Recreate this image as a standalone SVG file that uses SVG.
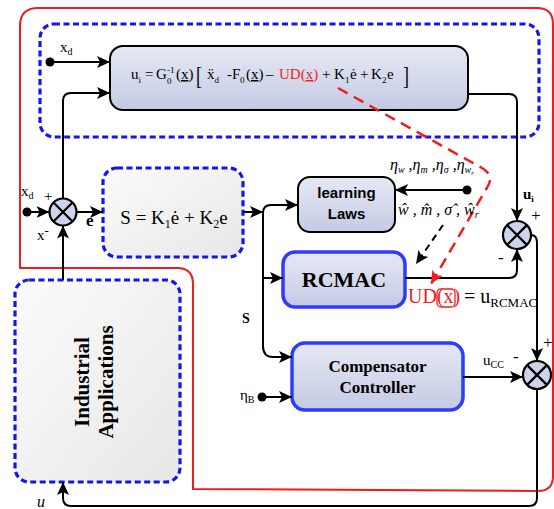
<svg xmlns="http://www.w3.org/2000/svg" width="554" height="509" viewBox="0 0 554 509">
<defs>
<linearGradient id="gN" x1="0" y1="0" x2="0" y2="1"><stop offset="0" stop-color="#e6e9f4"/><stop offset="1" stop-color="#c4cae4"/></linearGradient>
<linearGradient id="gG" x1="0" y1="0" x2="1" y2="1"><stop offset="0" stop-color="#fbfbfb"/><stop offset="1" stop-color="#e7e7e7"/></linearGradient>
<marker id="ah" markerUnits="userSpaceOnUse" markerWidth="14" markerHeight="12" refX="13" refY="6" orient="auto"><path d="M0,0 L13,6 L0,12 L3,6 z" fill="#000"/></marker>
<marker id="ahr" markerUnits="userSpaceOnUse" markerWidth="14" markerHeight="12" refX="13" refY="6" orient="auto"><path d="M0,0 L13,6 L0,12 L3,6 z" fill="#f01e1e"/></marker>
<style>
.ln{fill:none;stroke:#000;stroke-width:2}
.bd{fill:none;stroke:#1414f0;stroke-width:3.2;stroke-dasharray:6 3.5}
.bdg{fill:url(#gG);stroke:#1414f0;stroke-width:3.2;stroke-dasharray:6 3.5}
.node{fill:url(#gN);stroke:#000;stroke-width:2}
.nodeb{fill:url(#gN);stroke:#2d3cff;stroke-width:3.5}
.t{font-family:"Liberation Serif",serif;fill:#000}
.sans{font-family:"Liberation Sans",Arial,sans-serif;fill:#000}
.red{fill:#f01e1e}
.sum circle{fill:#cfd3ea;stroke:#000;stroke-width:2.2}
.sum path{stroke:#000;stroke-width:2.2;fill:none}
.dot{fill:#000}
</style>
</defs>

<g id="frame">
<path d="M 20 268 L 20 26 Q 20 8 38 8 L 537 8 Q 553 8 553 24 L 553 476 Q 553 491 538 491 L 193 489 L 193 284 Q 193 268 177 268 Z" fill="none" stroke="#ee1c1c" stroke-width="2"/>
</g>

<g id="control-region"><rect class="bd" x="40" y="24" width="499" height="113" rx="14"/></g>

<g id="formula-box">
<rect class="node" x="110" y="46" width="358" height="64" rx="13"/>
<g class="t" font-size="15">
<text x="131" y="79">u</text><text x="138.5" y="83" font-size="9">i</text>
<text x="145" y="79">=</text>
<text x="156" y="79">G</text><text x="167" y="73" font-size="9">-1</text><text x="167" y="84" font-size="9">0</text>
<text x="176" y="79">(<tspan text-decoration="underline">x</tspan>)</text>
<text font-size="18" transform="translate(196,84) scale(1,1.45)">[</text>
<text x="207" y="79">x&#776;</text><text x="214.5" y="83" font-size="9">d</text>
<text x="227" y="79">-F</text><text x="240" y="83" font-size="9">0</text>
<text x="246" y="79">(<tspan text-decoration="underline">x</tspan>)</text>
<text x="266" y="79">–</text>
<text x="279" y="79" class="red">UD(<tspan text-decoration="underline">x</tspan>)</text>
<text x="322" y="79">+</text>
<text x="334" y="79">K</text><text x="345" y="83" font-size="9">1</text><text x="350" y="79">ė</text>
<text x="360" y="79">+</text>
<text x="371" y="79">K</text><text x="382" y="83" font-size="9">2</text><text x="387" y="79">e</text>
<text font-size="18" transform="translate(403,84) scale(1,1.45)">]</text>
</g>
</g>

<g id="s-box">
<rect class="bdg" x="103" y="168" width="140" height="89" rx="14"/>
<text class="t" x="174" y="224" font-size="19" text-anchor="middle">S = K<tspan font-size="12" dy="4">1</tspan><tspan dy="-4">ė + K</tspan><tspan font-size="12" dy="4">2</tspan><tspan dy="-4">e</tspan></text>
</g>

<g id="industrial">
<rect class="bdg" x="15" y="280" width="165" height="202" rx="14"/>
<text class="t" font-size="21" font-weight="bold" text-anchor="middle" transform="translate(89,382) rotate(-90)">Industrial</text>
<text class="t" font-size="21" font-weight="bold" text-anchor="middle" transform="translate(113,382) rotate(-90)">Applications</text>
</g>

<g id="learning-laws">
<rect class="node" x="298" y="177" width="97" height="55" rx="12"/>
<text class="sans" x="346.5" y="198" font-size="15" font-weight="bold" text-anchor="middle">learning</text>
<text class="sans" x="346.5" y="219" font-size="15" font-weight="bold" text-anchor="middle">Laws</text>
</g>

<g id="rcmac">
<rect class="nodeb" x="283" y="252" width="122" height="55" rx="12"/>
<text class="t" x="344" y="287" font-size="22" font-weight="bold" text-anchor="middle">RCMAC</text>
</g>

<g id="compensator">
<rect class="nodeb" x="292" y="343" width="171" height="67" rx="13"/>
<text class="t" x="377.5" y="372" font-size="17" font-weight="bold" text-anchor="middle">Compensator</text>
<text class="t" x="377.5" y="393" font-size="17" font-weight="bold" text-anchor="middle">Controller</text>
</g>

<g id="sum1" class="sum"><circle cx="63" cy="212" r="13.5"/><path d="M53.5 202.5 L72.5 221.5 M72.5 202.5 L53.5 221.5"/></g>
<g id="sum2" class="sum"><circle cx="517" cy="235" r="14"/><path d="M507.1 225.1 L526.9 244.9 M526.9 225.1 L507.1 244.9"/></g>
<g id="sum3" class="sum"><circle cx="537" cy="375" r="14"/><path d="M527.1 365.1 L546.9 384.9 M546.9 365.1 L527.1 384.9"/></g>

<g id="connectors">
<circle class="dot" cx="50" cy="62" r="4.5"/>
<path class="ln" d="M 50 62 L 110 62" marker-end="url(#ah)"/>
<path class="ln" d="M 63 198 L 63 101 Q 63 93 71 93 L 110 93" marker-end="url(#ah)"/>
<circle class="dot" cx="27" cy="212" r="4.5"/>
<path class="ln" d="M 27 212 L 49.5 212" marker-end="url(#ah)"/>
<path class="ln" d="M 63 280 L 63 225.5" marker-end="url(#ah)"/>
<path class="ln" d="M 76.5 212 L 103 212" marker-end="url(#ah)"/>
<path class="ln" d="M 243 212 L 263 212" marker-end="url(#ah)"/>
<path class="ln" d="M 263 348 L 263 213 Q 263 205 271 205 L 298 205" marker-end="url(#ah)"/>
<path class="ln" d="M 263 278 L 283 278" marker-end="url(#ah)"/>
<path class="ln" d="M 263 346 Q 263 357 273 357 L 292 357" marker-end="url(#ah)"/>
<circle class="dot" cx="262" cy="397" r="4.5"/>
<path class="ln" d="M 262 397 L 292 397" marker-end="url(#ah)"/>
<circle class="dot" cx="467" cy="190" r="4.5"/>
<path class="ln" d="M 467 190 L 395 190" marker-end="url(#ah)"/>
<path class="ln" d="M 468 94 L 509 94 Q 517 94 517 102 L 517 221" marker-end="url(#ah)"/>
<path class="ln" d="M 405 278 L 509 278 Q 517 278 517 270 L 517 249" marker-end="url(#ah)"/>
<path class="ln" d="M 531 235 Q 537 235 537 243 L 537 361" marker-end="url(#ah)"/>
<path class="ln" d="M 463 377 L 523 377" marker-end="url(#ah)"/>
<path class="ln" d="M 537 389 L 537 498 Q 537 506 529 506 L 71 506 Q 63 506 63 498 L 63 482" marker-end="url(#ah)"/>
<path class="ln" d="M 443 225 L 416 264" stroke-dasharray="7 5" marker-end="url(#ah)"/>
<path d="M 338 88 L 482 168 Q 494 175 488 186 L 431 284" fill="none" stroke="#f01e1e" stroke-width="2.5" stroke-dasharray="11 7" marker-end="url(#ahr)"/>
</g>

<g id="labels" class="t">
<text x="60" y="52" font-size="15">x<tspan font-size="10" dy="3">d</tspan></text>
<text x="21" y="196" font-size="15">x<tspan font-size="10" dy="3">d</tspan></text>
<text x="44" y="201" font-size="15">+</text>
<text x="37" y="240" font-size="15">x<tspan font-size="13" dy="-5">-</tspan></text>
<text x="86" y="226" font-size="17" font-weight="bold">e</text>
<text x="242" y="323" font-size="14" font-weight="bold">S</text>
<text x="240" y="400" font-size="15">η<tspan font-size="10" dy="3">B</tspan></text>
<text x="523" y="199" font-size="15" font-weight="bold">u<tspan font-size="9" dy="3">i</tspan></text>
<text x="531" y="221" font-size="17">+</text>
<text x="498" y="263" font-size="17">-</text>
<text x="543" y="348" font-size="17">+</text>
<text x="513" y="362" font-size="17">-</text>
<text x="483" y="365" font-size="15">u<tspan font-size="10" dy="3">CC</tspan></text>
<text x="37" y="507" font-size="16" font-style="italic">u</text>
<text x="390" y="170" font-size="16" font-style="italic">η<tspan font-size="10" dy="3">w</tspan><tspan dy="-3"> ,</tspan>η<tspan font-size="10" dy="3">m</tspan><tspan dy="-3"> ,</tspan>η<tspan font-size="10" dy="3">σ</tspan><tspan dy="-3"> ,</tspan>η<tspan font-size="10" dy="3">w</tspan><tspan font-size="7" dy="2">r</tspan></text>
<text x="398" y="215" font-size="16" font-style="italic">ŵ , m&#770; , σ&#770; , ŵ<tspan font-size="10" dy="3">r</tspan></text>
<rect x="437" y="289" width="18" height="18" rx="4" fill="none" stroke="#f01e1e" stroke-width="1.3"/>
<text x="408" y="303" font-size="20" class="red">UD(<tspan>x</tspan>)</text>
<text x="464" y="303" font-size="20">= u<tspan font-size="13" dy="4">RCMAC</tspan></text>
</g>
</svg>
